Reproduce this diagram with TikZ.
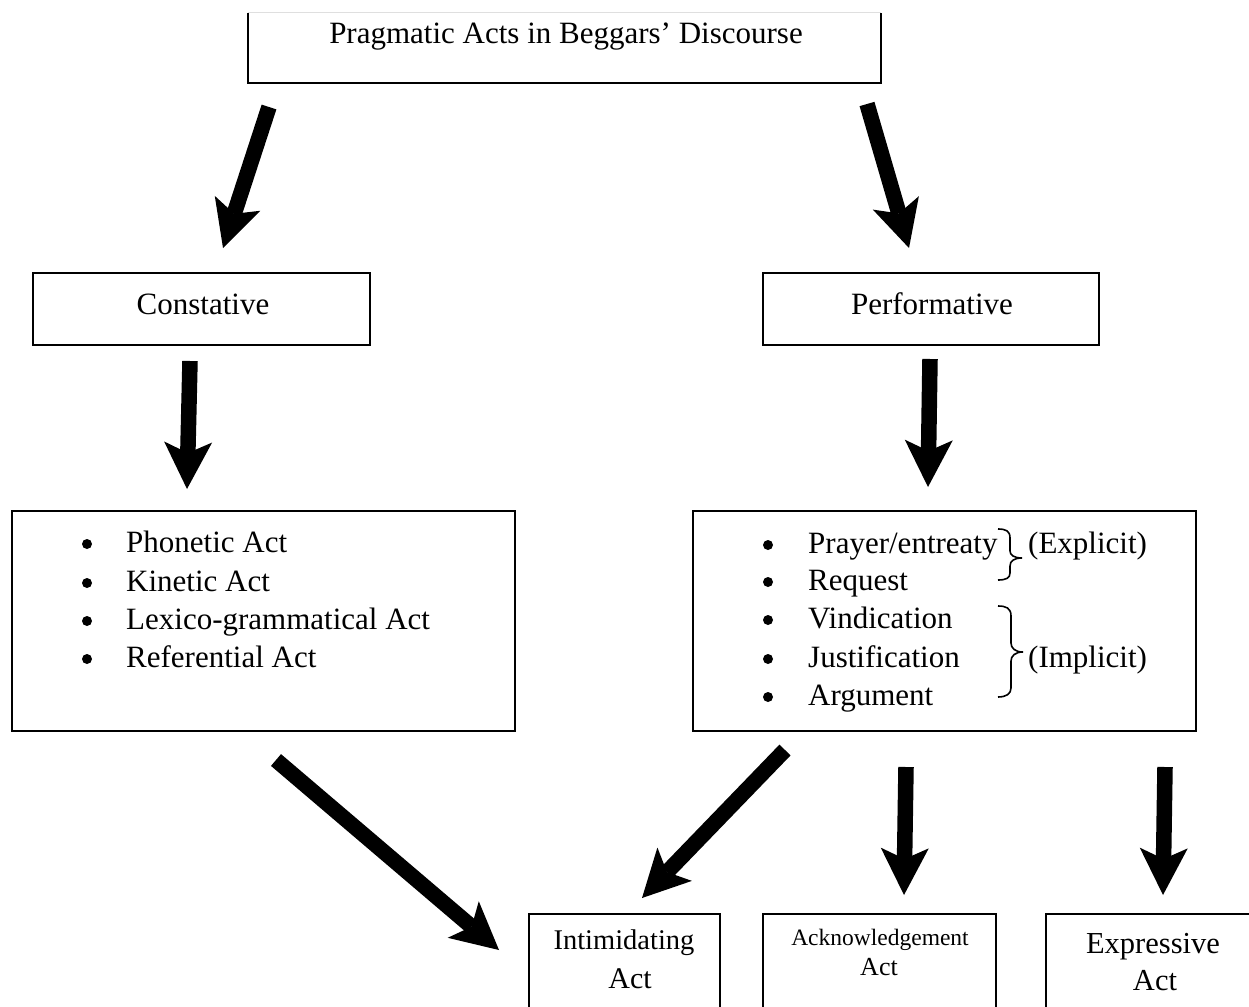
\documentclass[tikz,border=0pt]{standalone}
\usepackage{fontspec}
\setmainfont{Liberation Serif}
\usetikzlibrary{arrows.meta}
\begin{document}
\begin{tikzpicture}[x=1pt,y=-1pt,
  box/.style={draw, line width=1.8pt, inner sep=0pt},
  lbl/.style={inner sep=0pt, font=\fontsize{31}{38}\selectfont},
  dot/.style={circle, fill, inner sep=0pt, minimum size=10pt},
  bigarrow/.style={line width=15.5pt, -{Stealth[length=47pt,width=48pt,inset=11pt,line width'=0pt]}},
  bracepath/.style={line width=1.6pt}]
\useasboundingbox (0,0) rectangle (1249,1006);
\clip (0,0) rectangle (1249,1006);

% ---------- boxes ----------
\node[minimum width=633pt, minimum height=70pt, inner sep=0pt] (top) at (564.5,48) {};
\draw[line width=1.8pt] (top.north west) -- (top.south west) -- (top.south east) -- (top.north east);
\draw[gray!25, line width=0.8pt] (top.north west) -- (top.north east);
\node[box, minimum width=337pt, minimum height=72pt] (cons) at (201.5,309) {};
\node[box, minimum width=336pt, minimum height=72pt] (perf) at (931,309) {};
\node[box, minimum width=503pt, minimum height=220pt] (clist) at (263.5,621) {};
\node[box, minimum width=503pt, minimum height=220pt] (plist) at (944.5,621) {};
\node[box, minimum width=191pt, minimum height=126pt] (intim) at (624.5,977) {};
\node[box, minimum width=233pt, minimum height=126pt] (ack) at (879.5,977) {};
\node[box, minimum width=254pt, minimum height=126pt] (expr) at (1173,977) {};

% ---------- texts ----------
\node[lbl, anchor=base] (ttop) at (566,44) {Pragmatic Acts in Beggars’ Discourse};
\node[lbl, anchor=base] (tcons) at (203,314) {Constative};
\node[lbl, anchor=base] (tperf) at (932,314) {Performative};

\foreach \y/\t [count=\i] in {552/{Phonetic Act}, 591/{Kinetic Act}, 629/{Lexico-grammatical Act}, 667/{Referential Act}}{
  \node[dot] (cb\i) at (87,\y-8) {};
  \node[lbl, anchor=base west] (c\i) at (126,\y) {\t};
}
\foreach \y/\t [count=\i] in {553/{Prayer/entreaty}, 590/{Request}, 628/{Vindication}, 667/{Justification}, 705/{Argument}}{
  \node[dot] (pb\i) at (768,\y-8) {};
  \node[lbl, anchor=base west] (p\i) at (808,\y) {\t};
}
\node[lbl, anchor=base west] (texpl) at (1028,553) {(Explicit)};
\node[lbl, anchor=base west] (timpl) at (1028,667) {(Implicit)};

% braces
\draw[bracepath] (998,529) .. controls (1006,529) and (1010,531) .. (1010,538) -- (1010,551)
   .. controls (1010,555) and (1014,558) .. (1022,558)
   .. controls (1014,558) and (1010,561) .. (1010,566) -- (1010,573)
   .. controls (1010,578) and (1006,580) .. (998,580);
\draw[bracepath] (998,606) .. controls (1006,606) and (1011,608) .. (1011,616) -- (1011,643)
   .. controls (1011,648) and (1015,652) .. (1023,652)
   .. controls (1015,652) and (1011,656) .. (1011,661) -- (1011,688)
   .. controls (1011,694) and (1006,697) .. (998,697);

\node[inner sep=0pt, anchor=base, font=\fontsize{28.5}{34}\selectfont] (tint1) at (624,949) {Intimidating};
\node[inner sep=0pt, anchor=base, font=\fontsize{30}{36}\selectfont] (tint2) at (630,988) {Act};
\node[inner sep=0pt, anchor=base, font=\fontsize{23.5}{28}\selectfont] (tack1) at (880,945) {Acknowledgement};
\node[inner sep=0pt, anchor=base, font=\fontsize{26}{30}\selectfont] (tack2) at (879,975) {Act};
\node[inner sep=0pt, anchor=base, font=\fontsize{30.5}{37}\selectfont] (texp1) at (1153,953) {Expressive};
\node[inner sep=0pt, anchor=base, font=\fontsize{30.5}{37}\selectfont] (texp2) at (1155,990) {Act};

% ---------- arrows ----------
\coordinate (a1s) at (269,107);  \coordinate (a1e) at (223,248);
\coordinate (a2s) at (867,104);  \coordinate (a2e) at (909,248);
\coordinate (a3s) at (190,361);  \coordinate (a3e) at (187,489);
\coordinate (a4s) at (930,359);  \coordinate (a4e) at (928,487);
\coordinate (a5s) at (276,760);  \coordinate (a5e) at (499,950);
\coordinate (a6s) at (785,750);  \coordinate (a6e) at (642,898);
\coordinate (a7s) at (906,767);  \coordinate (a7e) at (904,895);
\coordinate (a8s) at (1165,767); \coordinate (a8e) at (1163,895);
\foreach \i in {1,...,8}{
  \draw[bigarrow] (a\i s) -- (a\i e);
}
\end{tikzpicture}
\end{document}
